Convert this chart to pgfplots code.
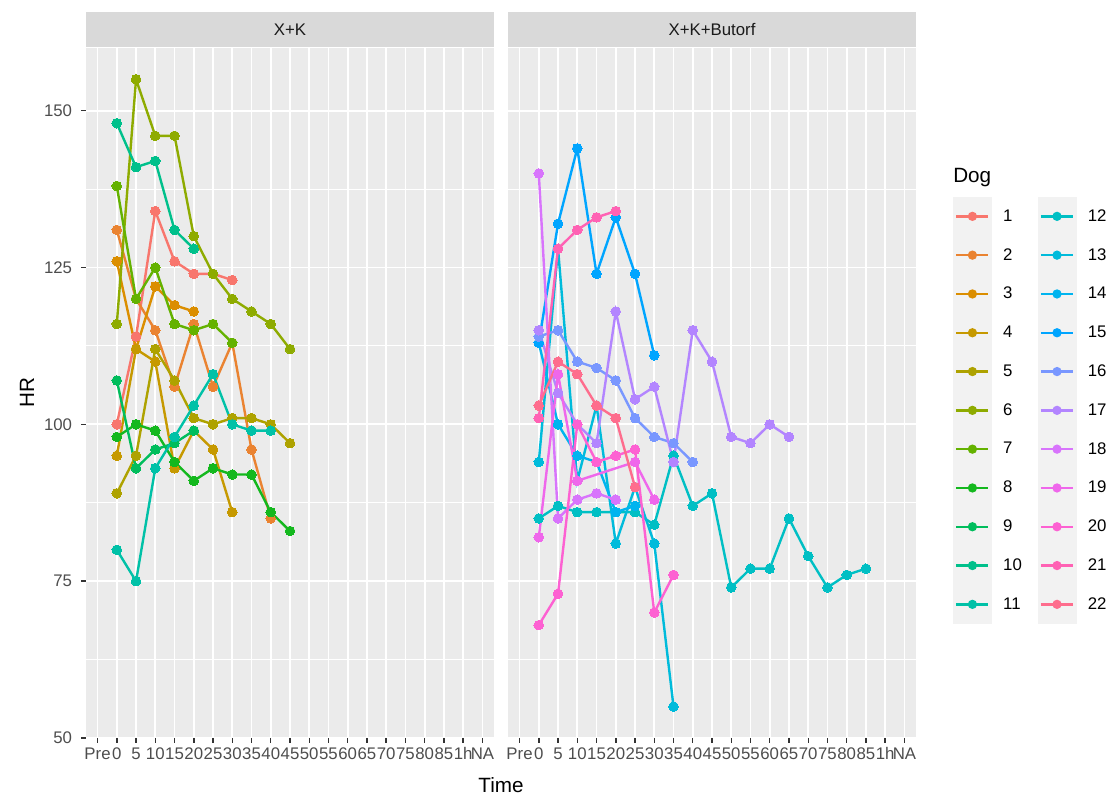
\documentclass[border=0pt]{standalone}
\usepackage{pgfplots}
\usepackage{pgfplotstable}
\pgfplotsset{compat=1.18}
\usepackage{fontspec}
\setmainfont{Liberation Sans}
\definecolor{panelbg}{HTML}{EBEBEB}
\definecolor{stripbg}{HTML}{D9D9D9}
\definecolor{tickc}{HTML}{333333}
\definecolor{labc}{HTML}{4D4D4D}
\definecolor{stripc}{HTML}{1A1A1A}
\definecolor{c1}{HTML}{F8766D}
\definecolor{c2}{HTML}{EA8331}
\definecolor{c3}{HTML}{DB8E00}
\definecolor{c4}{HTML}{C69900}
\definecolor{c5}{HTML}{AEA200}
\definecolor{c6}{HTML}{8EAB00}
\definecolor{c7}{HTML}{64B200}
\definecolor{c8}{HTML}{14B81E}
\definecolor{c9}{HTML}{00BD5C}
\definecolor{c10}{HTML}{00C08B}
\definecolor{c11}{HTML}{00C1A7}
\definecolor{c12}{HTML}{00BFC4}
\definecolor{c13}{HTML}{00BBDB}
\definecolor{c14}{HTML}{00B4EF}
\definecolor{c15}{HTML}{00A5FF}
\definecolor{c16}{HTML}{7997FF}
\definecolor{c17}{HTML}{B385FF}
\definecolor{c18}{HTML}{D874FC}
\definecolor{c19}{HTML}{EF67EB}
\definecolor{c20}{HTML}{FD61D2}
\definecolor{c21}{HTML}{FF62B4}
\definecolor{c22}{HTML}{FE6D8D}
% x index: Pre=0, 0=1, 5=2, 10=3, ..., 85=18, 1h=19, NA=20
% ---- X+K (dogs 1-11)
\pgfplotstableread{
x y
1 100
2 114
3 134
4 126
5 124
6 124
7 123
}\dA
\pgfplotstableread{
x y
1 131
2 120
3 115
4 106
5 116
6 106
7 113
8 96
9 85
}\dB
\pgfplotstableread{
x y
1 126
2 112
3 122
4 119
5 118
}\dC
\pgfplotstableread{
x y
1 95
2 112
3 110
4 93
5 99
6 96
7 86
}\dD
\pgfplotstableread{
x y
1 89
2 95
3 112
4 107
5 101
6 100
7 101
8 101
9 100
10 97
}\dE
\pgfplotstableread{
x y
1 116
2 155
3 146
4 146
5 130
6 124
7 120
8 118
9 116
10 112
}\dF
\pgfplotstableread{
x y
1 138
2 120
3 125
4 116
5 115
6 116
7 113
}\dG
\pgfplotstableread{
x y
1 98
2 100
3 99
4 94
5 91
6 93
7 92
8 92
9 86
10 83
}\dH
\pgfplotstableread{
x y
1 107
2 93
3 96
4 97
5 99
}\dI
\pgfplotstableread{
x y
1 148
2 141
3 142
4 131
5 128
}\dJ
\pgfplotstableread{
x y
1 80
2 75
3 93
4 98
5 103
6 108
7 100
8 99
9 99
}\dK
% ---- X+K+Butorf (dogs 12-22)
\pgfplotstableread{
x y
1 85
2 87
3 86
4 86
5 86
6 86
7 84
8 95
9 87
10 89
11 74
12 77
13 77
14 85
15 79
16 74
17 76
18 77
}\dL
\pgfplotstableread{
x y
1 94
2 128
3 91
4 103
5 81
6 90
7 81
8 55
}\dM
\pgfplotstableread{
x y
1 113
2 100
3 95
4 94
5 86
6 87
}\dN
\pgfplotstableread{
x y
1 113
2 132
3 144
4 124
5 133
6 124
7 111
}\dO
\pgfplotstableread{
x y
1 114
2 115
3 110
4 109
5 107
6 101
7 98
8 97
9 94
}\dP
\pgfplotstableread{
x y
1 115
2 105
3 100
4 97
5 118
6 104
7 106
8 94
9 115
10 110
11 98
12 97
13 100
14 98
}\dQ
\pgfplotstableread{
x y
1 140
2 85
3 88
4 89
5 88
}\dR
\pgfplotstableread{
x y
1 82
2 108
3 91
6 94
7 88
}\dS
\pgfplotstableread{
x y
1 68
2 73
3 100
4 94
5 95
6 96
7 70
8 76
}\dT
\pgfplotstableread{
x y
1 101
2 128
3 131
4 133
5 134
}\dU
\pgfplotstableread{
x y
1 103
2 110
3 108
4 103
5 101
6 90
}\dV
\pgfplotsset{
  panel/.style={anchor=south west, scale only axis, width=306pt, height=517.5pt,
    xmin=-0.6, xmax=20.6, ymin=50, ymax=160,
    axis background/.style={fill=panelbg},
    axis line style={draw=none},
    xtick pos=bottom, ytick pos=left,
    xtick={0,...,20},
    xticklabels={Pre,0,5,10,15,20,25,30,35,40,45,50,55,60,65,70,75,80,85,1h,NA},
    ytick={50,75,100,125,150}, minor ytick={62.5,87.5,112.5,137.5},
    grid=both,
    major grid style={white, line width=1.4pt},
    minor grid style={white, line width=0.7pt},
    tick align=outside, major tick length=3.75pt, minor tick length=0pt,
    tick style={color=tickc, line width=1.1pt},
    /pgf/number format/assume math mode=true,
    tick label style={font=\fontsize{12.6}{14}\selectfont, text=labc},
    xticklabel style={inner sep=0pt, yshift=-3pt, text height=9.4pt, text depth=0pt},
    yticklabel style={inner sep=0pt, xshift=-6.5pt},
    ln/.style={line width=1.8pt, mark=none, forget plot},
    pt/.style={only marks, mark=*, mark size=3.6pt, mark options={line width=0pt}, forget plot},
  },
  dogkey/.style={legend image code/.code={
    \fill[black!5, draw=none, overlay] (0pt,-14.6pt) rectangle (29.25pt,14.6pt);
    \draw[#1, line width=1.8pt, overlay] (2.5pt,0pt) -- (26.5pt,0pt);
    \fill[#1, draw=none, overlay] (14.6pt,0pt) circle (3.5pt);
    \path[draw=none, fill=none] (0pt,-14.55pt) rectangle (37.7pt,14.55pt);
  }},
}
\begin{document}
\begin{tikzpicture}
\useasboundingbox (0pt,0pt) rectangle (837.75pt,598.5pt);
% ---------------- X+K
\begin{axis}[panel, at={(64.5pt,45pt)}]
\addplot[c1, ln] table {\dA};
\addplot[c2, ln] table {\dB};
\addplot[c3, ln] table {\dC};
\addplot[c4, ln] table {\dD};
\addplot[c5, ln] table {\dE};
\addplot[c6, ln] table {\dF};
\addplot[c7, ln] table {\dG};
\addplot[c8, ln] table {\dH};
\addplot[c9, ln] table {\dI};
\addplot[c10, ln] table {\dJ};
\addplot[c11, ln] table {\dK};
\addplot[c1, pt] table {\dA};
\addplot[c2, pt] table {\dB};
\addplot[c3, pt] table {\dC};
\addplot[c4, pt] table {\dD};
\addplot[c5, pt] table {\dE};
\addplot[c6, pt] table {\dF};
\addplot[c7, pt] table {\dG};
\addplot[c8, pt] table {\dH};
\addplot[c9, pt] table {\dI};
\addplot[c10, pt] table {\dJ};
\addplot[c11, pt] table {\dK};
\end{axis}
% ---------------- X+K+Butorf
\begin{axis}[panel, at={(381pt,45pt)}, yticklabels={}, ytick style={draw=none},
  legend columns=2,
  legend style={at={(axis description cs:1.0899,0.7845)}, anchor=north west,
    draw=none, fill=none, inner sep=0pt, row sep=0pt, column sep=0pt,
    nodes={inner sep=0pt, text width=25.75pt, align=left, font=\fontsize{12.6}{14}\selectfont}},
  legend cell align=left]
\addplot[c12, ln] table {\dL};
\addplot[c13, ln] table {\dM};
\addplot[c14, ln] table {\dN};
\addplot[c15, ln] table {\dO};
\addplot[c16, ln] table {\dP};
\addplot[c17, ln] table {\dQ};
\addplot[c18, ln] table {\dR};
\addplot[c19, ln] table {\dS};
\addplot[c20, ln] table {\dT};
\addplot[c21, ln] table {\dU};
\addplot[c22, ln] table {\dV};
\addplot[c12, pt] table {\dL};
\addplot[c13, pt] table {\dM};
\addplot[c14, pt] table {\dN};
\addplot[c15, pt] table {\dO};
\addplot[c16, pt] table {\dP};
\addplot[c17, pt] table {\dQ};
\addplot[c18, pt] table {\dR};
\addplot[c19, pt] table {\dS};
\addplot[c20, pt] table {\dT};
\addplot[c21, pt] table {\dU};
\addplot[c22, pt] table {\dV};
\addlegendimage{dogkey=c1}\addlegendentry{1}
\addlegendimage{dogkey=c12}\addlegendentry{12}
\addlegendimage{dogkey=c2}\addlegendentry{2}
\addlegendimage{dogkey=c13}\addlegendentry{13}
\addlegendimage{dogkey=c3}\addlegendentry{3}
\addlegendimage{dogkey=c14}\addlegendentry{14}
\addlegendimage{dogkey=c4}\addlegendentry{4}
\addlegendimage{dogkey=c15}\addlegendentry{15}
\addlegendimage{dogkey=c5}\addlegendentry{5}
\addlegendimage{dogkey=c16}\addlegendentry{16}
\addlegendimage{dogkey=c6}\addlegendentry{6}
\addlegendimage{dogkey=c17}\addlegendentry{17}
\addlegendimage{dogkey=c7}\addlegendentry{7}
\addlegendimage{dogkey=c18}\addlegendentry{18}
\addlegendimage{dogkey=c8}\addlegendentry{8}
\addlegendimage{dogkey=c19}\addlegendentry{19}
\addlegendimage{dogkey=c9}\addlegendentry{9}
\addlegendimage{dogkey=c20}\addlegendentry{20}
\addlegendimage{dogkey=c10}\addlegendentry{10}
\addlegendimage{dogkey=c21}\addlegendentry{21}
\addlegendimage{dogkey=c11}\addlegendentry{11}
\addlegendimage{dogkey=c22}\addlegendentry{22}
\end{axis}
% strips
\fill[stripbg] (64.5pt,563.25pt) rectangle (370.5pt,589.5pt);
\fill[stripbg] (381pt,563.25pt) rectangle (687pt,589.5pt);
\node[text=stripc, font=\fontsize{12.6}{14}\selectfont] at (217.5pt,576.4pt) {X+K};
\node[text=stripc, font=\fontsize{12.6}{14}\selectfont] at (534pt,576.4pt) {X+K+Butorf};
% axis titles and legend title
\node[rotate=90, font=\fontsize{15.5}{18}\selectfont] at (20.25pt,303.75pt) {HR};
\node[font=\fontsize{15.5}{18}\selectfont] at (375.75pt,10pt) {Time};
\node[anchor=base west, font=\fontsize{15.5}{18}\selectfont, inner sep=0pt] at (714.75pt,461.25pt) {Dog};
\end{tikzpicture}
\end{document}
